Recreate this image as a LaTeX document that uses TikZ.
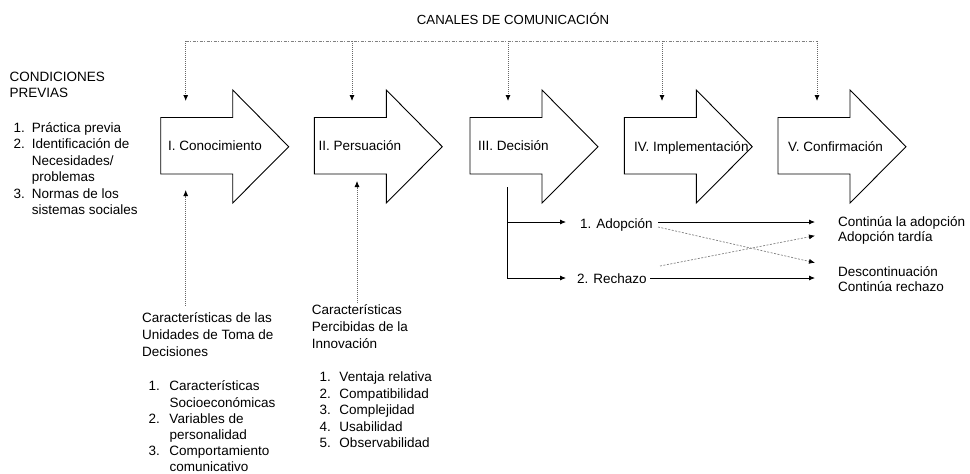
\documentclass[tikz,border=0pt]{standalone}
\usepackage{fontspec}
\setmainfont{Liberation Sans}
\usetikzlibrary{arrows.meta}
\begin{document}
\begin{tikzpicture}[x=1pt,y=-1pt,
  txt/.style={inner sep=0pt, anchor=base west, font=\fontsize{13.5}{16.4}\selectfont},
  stage/.style={draw=black, line width=0.9pt, fill=white, line join=miter},
  tipped/.style={-{Latex[length=6pt,width=5pt,color=black]}},
  solidc/.style={line width=0.8pt, draw=black},
  dotc/.style={draw=gray!80!black, line width=0.8pt, dash pattern=on 1pt off 1pt},
  crossc/.style={draw=gray, line width=0.7pt, dash pattern=on 2pt off 1.5pt},
  chan/.style={draw=gray, line width=0.8pt, dash pattern=on 3pt off 1.5pt on 1pt off 1.5pt}]
\useasboundingbox (0,0) rectangle (970,474);

% title
\node[inner sep=0pt, anchor=base, font=\fontsize{13.2}{16}\selectfont] (title) at (513,24.7) {CANALES DE COMUNICACIÓN};

% stage arrows
\foreach \x in {160.7,314.3,470,624.3,778}{
  \draw[stage] (\x,117.5) -- ({\x+72},117.5) -- ({\x+72},90) -- ({\x+128},146.7)
     -- ({\x+72},203) -- ({\x+72},174) -- (\x,174) -- cycle;
}
\node[txt] (s1) at (168,150.5) {I. Conocimiento};
\node[txt] (s2) at (318.5,150.5) {II. Persuación};
\node[txt] (s3) at (478,150.5) {III. Decisión};
\node[txt] (s4) at (634,151) {IV. Implementación};
\node[txt] (s5) at (788,151) {V. Confirmación};

% channels
\coordinate (c1) at (185.7,41);
\coordinate (c2) at (352,41);
\coordinate (c3) at (508,41);
\coordinate (c4) at (662,41);
\coordinate (c5) at (817,41);
\coordinate (t1) at (185.7,101);
\coordinate (t2) at (352,101);
\coordinate (t3) at (508,101);
\coordinate (t4) at (662,101);
\coordinate (t5) at (817,101);
\draw[chan] (c1) -- (c5);
\foreach \i in {1,...,5}{\draw[dotc,tipped] (c\i) -- (t\i);}

% prior conditions
\node[txt] (cp) at (9.5,81.3) {\fontsize{13.5}{16.5}\selectfont\begin{tabular}[t]{@{}l@{}}CONDICIONES\\PREVIAS\end{tabular}};
\node[txt] (cl) at (13.3,132.5) {\fontsize{13.5}{16.46}\selectfont\begin{tabular}[t]{@{}p{18.4pt}@{}l@{}}
1.&Práctica previa\\2.&Identificación de\\&Necesidades/\\&problemas\\3.&Normas de los\\&sistemas sociales\end{tabular}};

% decision-unit characteristics
\node[txt] (uh) at (142,322.8) {\fontsize{13.5}{16.7}\selectfont\begin{tabular}[t]{@{}l@{}}Características de las\\Unidades de Toma de\\Decisiones\end{tabular}};
\node[txt] (ul) at (148.3,390.8) {\fontsize{13.5}{16.2}\selectfont\begin{tabular}[t]{@{}p{21pt}@{}l@{}}
1.&Características\\&Socioeconómicas\\2.&Variables de\\&personalidad\\3.&Comportamiento\\&comunicativo\end{tabular}};
\coordinate (u0) at (185.7,306);
\coordinate (u1) at (185.7,190);
\draw[dotc,tipped] (u0) -- (u1);

% perceived characteristics
\node[txt] (ph) at (311.7,314.8) {\fontsize{13.5}{16.7}\selectfont\begin{tabular}[t]{@{}l@{}}Características\\Percibidas de la\\Innovación\end{tabular}};
\node[txt] (pl) at (319.3,381.5) {\fontsize{13.5}{16.5}\selectfont\begin{tabular}[t]{@{}p{20pt}@{}l@{}}
1.&Ventaja relativa\\2.&Compatibilidad\\3.&Complejidad\\4.&Usabilidad\\5.&Observabilidad\end{tabular}};
\coordinate (p0) at (357,303);
\coordinate (p1) at (357,181);
\draw[dotc,tipped] (p0) -- (p1);

% decision branches
\node[txt] (adop) at (580,228) {1. Adopción};
\node[txt] (rech) at (577,283) {2. Rechazo};
\coordinate (d0) at (507,187);
\coordinate (dA) at (507,222);
\coordinate (dR) at (507,278);
\coordinate (aIn) at (566,222);
\coordinate (rIn) at (566,278);
\draw[solidc] (d0) -- (dR);
\draw[solidc,tipped] (dA) -- (aIn);
\draw[solidc,tipped] (dR) -- (rIn);

% outcomes
\node[txt] (o1) at (838,226.5) {\fontsize{13.5}{15}\selectfont\begin{tabular}[t]{@{}l@{}}Continúa la adopción\\Adopción tardía\end{tabular}};
\node[txt] (o2) at (838,276.5) {\fontsize{13.5}{15}\selectfont\begin{tabular}[t]{@{}l@{}}Descontinuación\\Continúa rechazo\end{tabular}};
\coordinate (aS) at (658,222);
\coordinate (aD) at (658,227);
\coordinate (rS) at (650,278);
\coordinate (rD) at (660,266);
\coordinate (eCont) at (815,222);
\coordinate (eTard) at (815,235.7);
\coordinate (eDesc) at (815,262.7);
\coordinate (eRech) at (815,278);
\draw[solidc,tipped] (aS) -- (eCont);
\draw[solidc,tipped] (rS) -- (eRech);
\draw[crossc,tipped] (aD) -- (eDesc);
\draw[crossc,tipped] (rD) -- (eTard);
\end{tikzpicture}
\end{document}
